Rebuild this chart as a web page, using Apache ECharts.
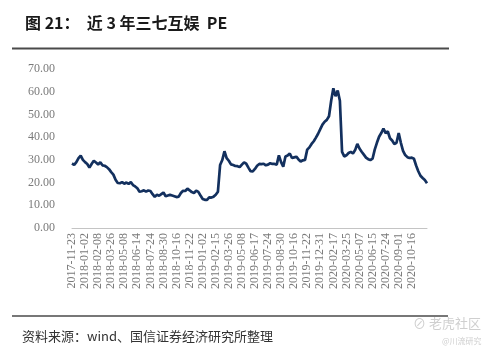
<!DOCTYPE html>
<html>
<head>
<meta charset="utf-8">
<script src="https://cdn.jsdelivr.net/npm/echarts/dist/echarts.min.js"></script>
<style>
  html, body { margin: 0; padding: 0; background: #fff; }
  #main { width: 490px; height: 354px; }
</style>
</head>
<body>
<div id="main"></div>
<script>
// 横轴刻度标签（每 6 个点一个）
var tickLabels = [
  '2017-11-23', '2018-01-02', '2018-02-08', '2018-03-26', '2018-05-08', '2018-06-14',
  '2018-07-24', '2018-08-30', '2018-10-16', '2018-11-22', '2019-01-02', '2019-02-15',
  '2019-03-26', '2019-05-08', '2019-06-17', '2019-07-24', '2019-08-30', '2019-10-16',
  '2019-11-22', '2019-12-31', '2020-02-17', '2020-03-25', '2020-05-07', '2020-06-15',
  '2020-07-24', '2020-09-01', '2020-10-16'
];

// PE 数据
var peValues = [
  28.4, 27.8, 29.0, 30.8, 31.9, 30.0, 29.0, 28.2, 26.6, 28.2,
  29.6, 28.8, 28.0, 28.9, 27.6, 27.4, 26.8, 25.9, 24.6, 23.5,
  21.2, 19.8, 19.7, 20.2, 19.5, 20.0, 19.4, 20.2, 18.9, 18.3,
  17.5, 16.0, 16.2, 16.6, 16.0, 16.5, 16.3, 14.9, 13.7, 14.6,
  14.2, 14.9, 15.6, 14.0, 14.3, 14.6, 14.3, 14.0, 13.6, 13.8,
  15.4, 16.4, 16.3, 17.3, 16.6, 15.8, 15.4, 16.5, 15.9, 14.3,
  12.8, 12.4, 12.4, 13.5, 13.4, 13.8, 14.6, 16.0, 27.7, 29.9,
  33.8, 30.8, 29.6, 28.0, 27.7, 27.3, 27.2, 26.8, 27.9, 28.9,
  28.3, 26.6, 25.0, 24.9, 26.0, 27.4, 28.2, 28.1, 28.3, 27.6,
  27.9, 28.5, 28.2, 28.2, 27.9, 32.0, 29.0, 27.0, 31.5, 31.9,
  32.8, 30.8, 31.1, 31.4, 30.2, 29.3, 29.8, 30.0, 34.5, 35.5,
  37.0, 38.2, 39.8, 41.5, 43.5, 45.5, 46.8, 47.6, 49.2, 56.0,
  61.5, 58.0, 60.5, 56.0, 33.5, 31.5, 32.0, 33.0, 33.5, 32.8,
  34.3, 37.0, 35.0, 33.6, 32.3, 31.0, 30.3, 29.9, 30.5, 34.5,
  37.5, 40.2, 41.8, 43.8, 41.8, 42.5, 39.5, 38.5, 37.0, 37.5,
  41.8, 37.5, 34.0, 32.1, 31.2, 30.8, 31.0, 30.5, 27.5, 25.0,
  23.0, 22.0, 21.1, 19.7
];

var categories = peValues.map(function (v, i) {
  return (i % 6 === 0 && tickLabels[i / 6]) ? tickLabels[i / 6] : '';
});

var chart = echarts.init(document.getElementById('main'), null, { renderer: 'canvas' });

var option = {
  animation: false,
  backgroundColor: '#fff',
  title: {
    text: '图 21：  近 3 年三七互娱  PE',
    left: 20,
    top: 10,
    textStyle: {
      fontFamily: 'Noto Sans CJK SC',
      fontSize: 16,
      fontWeight: 'bold',
      color: '#1a1a1a'
    }
  },
  grid: {
    left: 72,
    right: 63,
    top: 69,
    bottom: 126
  },
  xAxis: {
    type: 'category',
    boundaryGap: false,
    data: categories,
    axisLine: { lineStyle: { color: '#c4c4c4', width: 1 } },
    axisTick: { show: false },
    axisLabel: {
      interval: 5,
      rotate: 90,
      margin: 5,
      fontFamily: 'Liberation Serif',
      fontSize: 12,
      color: '#7a7a7a'
    }
  },
  yAxis: {
    type: 'value',
    min: 0,
    max: 70,
    interval: 10,
    axisLine: { show: false },
    axisTick: { show: false },
    splitLine: { show: false },
    axisLabel: {
      margin: 17,
      fontFamily: 'Liberation Serif',
      fontSize: 12,
      color: '#7a7a7a',
      formatter: function (v) { return v.toFixed(2); }
    }
  },
  series: [
    {
      name: 'PE',
      type: 'line',
      data: peValues,
      showSymbol: false,
      lineStyle: { color: '#13305e', width: 2.7 }
    }
  ],
  graphic: [
    // 标题下横线
    {
      type: 'line',
      shape: { x1: 12, y1: 48.5, x2: 449, y2: 48.5 },
      style: { stroke: '#4a4a4a', lineWidth: 2 }
    },
    // 底部横线
    {
      type: 'line',
      shape: { x1: 12, y1: 316, x2: 448, y2: 316 },
      style: { stroke: '#4a4a4a', lineWidth: 1.5 }
    },
    {
      type: 'text',
      left: 22,
      top: 330,
      style: {
        text: '资料来源：wind、国信证券经济研究所整理',
        font: '13px "Noto Sans CJK SC"',
        fill: '#333'
      }
    },
    // 水印
    {
      type: 'text',
      left: 413,
      top: 317,
      style: {
        text: '⊘ 老虎社区',
        font: '13px "Noto Sans CJK SC"',
        fill: '#cfcfcf'
      }
    },
    {
      type: 'text',
      left: 442,
      top: 337,
      style: {
        text: '@川流研究',
        font: '8px "Noto Sans CJK SC"',
        fill: '#cfcfcf'
      }
    }
  ]
};

chart.setOption(option);
</script>
</body>
</html>
